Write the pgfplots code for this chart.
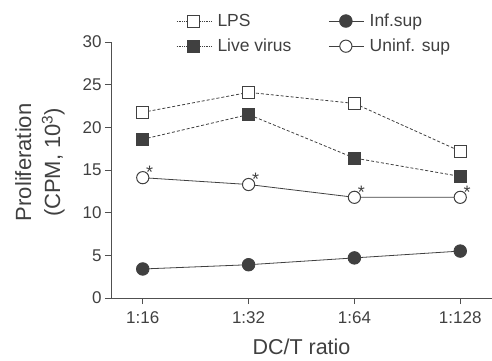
\documentclass[border=0pt]{standalone}
\usepackage{pgfplots}
\pgfplotsset{compat=1.18}
\usepackage{fontspec}
\setmainfont{Liberation Sans}
\definecolor{dk}{HTML}{404040}
\definecolor{ax}{HTML}{505050}
\begin{document}
\begin{tikzpicture}
\begin{axis}[
  scale only axis,
  width=381pt, height=256pt,
  xmin=-0.3, xmax=3.3, ymin=0, ymax=30,
  axis x line*=bottom, axis y line*=left,
  axis line style={ax, line width=0.9pt, -},
  tick style={ax, line width=0.9pt},
  tick align=outside, major tick length=6pt,
  xtick={0,1,2,3}, xticklabels={1:16,1:32,1:64,1:128},
  ytick={0,5,10,15,20,25,30},
  ticklabel style={text=dk, font=\fontsize{17}{19}\selectfont},
  xticklabel style={yshift=-4pt},
  /pgf/number format/assume math mode=true,
  xlabel={DC/T ratio},
  xlabel style={text=dk, font=\fontsize{21.5}{24}\selectfont, at={(rel axis cs:0.5,-0.222)}, anchor=base},
  ylabel={Proliferation\\(CPM, 10\textsuperscript{3})},
  ylabel style={text=dk, align=center, font=\fontsize{22}{29}\selectfont, at={(rel axis cs:-0.1864,0.53)}, anchor=center},
  legend columns=2,
  legend style={at={(rel axis cs:0.163,1.126)}, anchor=north west, draw=none, fill=none,
    text=dk, row sep=7pt, /tikz/every even column/.append style={column sep=35pt},
    font=\fontsize{17.5}{19}\selectfont},
  legend cell align=left,
  legend image code/.code={
    \draw[#1, mark=none] (0cm,0cm) -- (1.23cm,0cm);
    \draw[#1, solid] plot coordinates {(0.6cm,0cm)};
    \path (1.35cm,0cm);
  },
  clip=false,
]
\coordinate (sw) at (rel axis cs:0,0);
\addplot[dk, densely dashed, line width=0.8pt, mark=square*, mark size=6pt,
  mark options={solid, fill=white, draw=dk, line width=1pt},
  legend image post style={densely dotted}]
  coordinates {(0,21.76) (1,24.1) (2,22.8) (3,17.2)};
\addlegendentry{LPS}
\addplot[dk, solid, line width=0.8pt, mark=*, mark size=6.3pt,
  mark options={solid, fill=dk, draw=dk}]
  coordinates {(0,3.4) (1,3.9) (2,4.7) (3,5.5)};
\addlegendentry{Inf.sup}
\addplot[dk, densely dashed, line width=0.8pt, mark=square*, mark size=6pt,
  mark options={solid, fill=dk, draw=dk},
  legend image post style={densely dotted}]
  coordinates {(0,18.6) (1,21.5) (2,16.4) (3,14.25)};
\addlegendentry{Live virus}
\addplot[dk, solid, line width=0.8pt, mark=*, mark size=6.1pt,
  mark options={solid, fill=white, draw=dk, line width=1pt},
  nodes near coords={*},
  every node near coord/.style={anchor=center, xshift=7pt, yshift=5pt, text=dk, font=\fontsize{18}{19}\selectfont}]
  coordinates {(0,14.1) (1,13.3) (2,11.8) (3,11.8)};
\addlegendentry{Uninf. sup}
\end{axis}
\pgfresetboundingbox
\path (sw) ++(-111pt,-62pt) rectangle ++(492pt,360pt);
\end{tikzpicture}
\end{document}
